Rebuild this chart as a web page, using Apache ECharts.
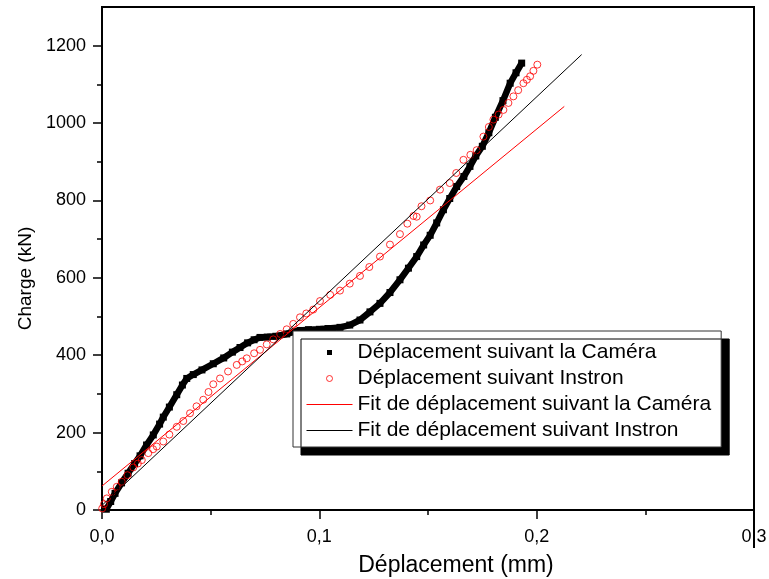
<!DOCTYPE html>
<html>
<head>
<meta charset="utf-8">
<script src="https://cdn.jsdelivr.net/npm/echarts@6/dist/echarts.min.js"></script>
<style>
html,body{margin:0;padding:0;background:#fff;}
#main{width:769px;height:579px;}
</style>
</head>
<body>
<div id="main"></div>
<script>
// ---- data ----
const seriesNames = [
  'Déplacement suivant la Caméra',
  'Déplacement suivant Instron',
  'Fit de déplacement suivant la Caméra',
  'Fit de déplacement suivant Instron'
];
const xTickValues = [0, 0.1, 0.2, 0.3];
const yTickValues = [0, 200, 400, 600, 800, 1000, 1200];
const yMinorTickValues = [100, 300, 500, 700, 900, 1100];

const cameraX = [0.002,0.004,0.006,0.009,0.012,0.015,0.0175,0.0205,0.0236,0.0265,0.0282,0.031,0.0344,0.037,0.039,
  0.042,0.046,0.0512,0.056,0.060,0.0635,0.067,0.070,0.0727,0.076,0.080,0.085,0.0888,0.0911,0.095,0.100,0.104,0.1095,
  0.114,0.1187,0.1233,0.1279,0.1325,0.1371,0.141,0.1448,0.148,0.151,0.154,0.1571,0.160,0.1632,0.1665,0.1693,0.172,
  0.175,0.178,0.181,0.1845,0.1878,0.1905,0.1931];
const cameraY = [2,22,43,70,95,120,140,168,194,222,240,266,298,323,340,
  350,362,378,393,408,420,432,440,446,447,449,455,461,464,466,467,469,472,
  478,491,512,534,562,595,625,655,685,710,742,776,805,836,862,888,915,
  940,975,1015,1058,1103,1130,1155];

const instronX = [0.0001,0.0009,0.0022,0.0045,0.0068,0.0091,0.0117,0.0144,0.0165,0.0183,0.0213,0.0235,0.0252,0.0282,0.031,
  0.0344,0.0374,0.0405,0.0435,0.0466,0.049,0.0512,0.0543,0.058,0.062,0.0645,0.0666,0.07,0.0727,0.0758,0.0788,0.082,
  0.085,0.088,0.0911,0.094,0.0972,0.1003,0.105,0.1095,0.114,0.1187,0.123,0.1279,0.1325,0.1371,0.1405,0.1433,0.1448,
  0.147,0.151,0.1555,0.160,0.163,0.1663,0.1695,0.1724,0.1755,0.178,0.1801,0.1825,0.1847,0.187,0.1893,0.1915,0.1939,
  0.1955,0.197,0.1985,0.2003];
const instronY = [4,15,30,47,60,73,90,110,120,129,147,157,164,177,195,
  215,230,250,268,285,305,325,340,358,375,384,392,405,414,428,441,455,
  467,481,498,508,518,540,556,567,585,605,628,655,686,713,740,760,758,
  785,800,828,845,871,905,918,930,965,990,1009,1022,1034,1052,1069,1085,1103,
  1112,1121,1135,1151];

const fitCameraX = [0, 0.2127];
const fitCameraY = [62, 1043];
const fitInstronX = [0, 0.2207];
const fitInstronY = [12, 1177];

const zip = (xs, ys) => xs.map((x, i) => [x, ys[i]]);

const chart = echarts.init(document.getElementById('main'), null, {renderer: 'canvas'});
const FONT = '"Liberation Sans", Arial, sans-serif';

const option = {
  animation: false,
  backgroundColor: '#fff',
  grid: {left: 102, right: 15, top: 7, bottom: 69, outerBoundsMode: 'none', containLabel: false,
    show: true, borderColor: '#000', borderWidth: 2, backgroundColor: 'transparent'},
  xAxis: {
    type: 'value', min: 0, max: 0.3, interval: 0.1,
    axisLine: {show: true, onZero: false, lineStyle: {color: '#000', width: 2}},
    axisTick: {show: true, length: 9, customValues: xTickValues, lineStyle: {color: '#000', width: 1.5}},
    minorTick: {show: true, splitNumber: 2, length: 5, lineStyle: {color: '#000', width: 1.5}},
    axisLabel: {customValues: xTickValues, fontSize: 18, color: '#000', fontFamily: FONT, margin: 18,
      formatter: v => v.toFixed(1).replace('.', ',')},
    splitLine: {show: false},
    name: 'Déplacement (mm)', nameLocation: 'middle', nameGap: 44,
    nameTextStyle: {fontSize: 23, color: '#000', fontFamily: FONT, padding: [0, 0, 0, 56]}
  },
  yAxis: [
    {
      type: 'value', min: 0, max: 1300, interval: 200, position: 'left',
      axisLine: {show: true, lineStyle: {color: '#000', width: 2}},
      axisTick: {show: true, length: 9, customValues: yTickValues, lineStyle: {color: '#000', width: 1.5}},
      axisLabel: {customValues: yTickValues, fontSize: 18, color: '#000', fontFamily: FONT, margin: 16,
        formatter: v => String(v)},
      splitLine: {show: false},
      name: 'Charge (kN)', nameLocation: 'middle', nameGap: 62,
      nameTextStyle: {fontSize: 19, color: '#000', fontFamily: FONT, padding: [0, 40, 0, 0]}
    },
    {
      type: 'value', min: 0, max: 1300, position: 'left',
      axisLine: {show: false},
      axisTick: {show: true, length: 5, customValues: yMinorTickValues, lineStyle: {color: '#000', width: 1.5}},
      axisLabel: {show: false},
      splitLine: {show: false}
    }
  ],
  legend: {
    orient: 'vertical', left: 293, top: 331,
    padding: [11, 10, 6, 13],
    itemWidth: 46, itemHeight: 10, itemGap: 5,
    backgroundColor: '#fff', borderColor: '#333', borderWidth: 1,
    shadowColor: '#000', shadowOffsetX: 8, shadowOffsetY: 8, shadowBlur: 0,
    selectedMode: false,
    textStyle: {fontSize: 21, color: '#000', fontFamily: FONT},
    data: [
      {name: seriesNames[0], icon: 'path://M0,0M46,10M20.5,2.5h5v5h-5z', itemStyle: {color: '#000', borderWidth: 0}},
      {name: seriesNames[1], icon: 'path://M0,0M46,10M26,5a3,3 0 1,0 -6,0a3,3 0 1,0 6,0z', itemStyle: {color: 'transparent', borderColor: '#ff0000', borderWidth: 1}},
      {name: seriesNames[2], icon: 'path://M0,0M46,10M0,5L46,5', itemStyle: {color: 'transparent', borderColor: '#ff0000', borderWidth: 1}},
      {name: seriesNames[3], icon: 'path://M0,0M46,10M0,5L46,5', itemStyle: {color: 'transparent', borderColor: '#000', borderWidth: 1}}
    ]
  },
  series: [
    {
      name: seriesNames[0], type: 'line', data: zip(cameraX, cameraY),
      symbol: 'rect', symbolSize: 7, showAllSymbol: true,
      lineStyle: {color: '#000', width: 6.5}, itemStyle: {color: '#000'}, z: 2
    },
    {
      name: seriesNames[1], type: 'scatter', data: zip(instronX, instronY),
      symbol: 'circle', symbolSize: 7,
      itemStyle: {color: 'transparent', borderColor: '#ff0000', borderWidth: 1}, z: 3
    },
    {
      name: seriesNames[2], type: 'line', data: zip(fitCameraX, fitCameraY),
      symbol: 'none', lineStyle: {color: '#ff0000', width: 1}, itemStyle: {color: '#ff0000'}, z: 4
    },
    {
      name: seriesNames[3], type: 'line', data: zip(fitInstronX, fitInstronY),
      symbol: 'none', lineStyle: {color: '#000', width: 1}, itemStyle: {color: '#000'}, z: 4
    }
  ]
};
chart.setOption(option);

// small extension of the right frame below the x axis, as in the reference
const p = chart.convertToPixel({xAxisIndex: 0, yAxisIndex: 0}, [0.3, 0]);
chart.setOption({
  graphic: [{
    type: 'line', shape: {x1: p[0], y1: p[1], x2: p[0], y2: p[1] + 38},
    style: {stroke: '#000', lineWidth: 2}, z: 10
  }]
});
</script>
</body>
</html>
